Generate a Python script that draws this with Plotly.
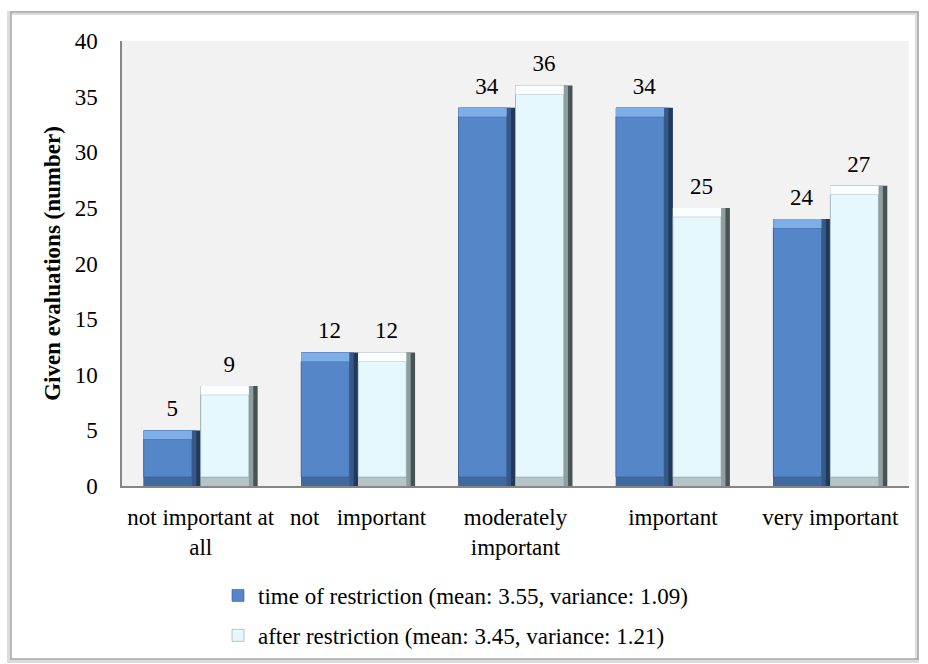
import plotly.graph_objects as go

# ---------------- data ----------------
categories = ["not important at<br>all", "not\u00a0\u00a0 important",
              "moderately<br>important", "important", "very important"]
time_of_restriction = [5, 12, 34, 34, 24]
after_restriction = [9, 12, 36, 25, 27]
series_names = ["time of restriction (mean: 3.55, variance: 1.09)",
                "after restriction (mean: 3.45, variance: 1.21)"]
y_ticks = [0, 5, 10, 15, 20, 25, 30, 35, 40]
y_title = "Given evaluations (number)"

# ---------------- style ----------------
FONT = "Liberation Serif, Times New Roman, serif"
FS = 23
W, H = 928, 664
ML, MR, MT, MB = 122, 19, 41, 178
BW = 0.362     # bar width (category units)
RB = 0.028     # right bevel step (category units)
VB = 0.8       # top / bottom bevel (value units)
LBL = 0.55     # extra lift of value labels (value units)

styles = [
    dict(edge="#22395a", edge2="#36598a", bottom="#4069a0", main="#5587c8",
         top="#7eaee8", offset=-BW),
    dict(edge="#485454", edge2="#8f9fa1", bottom="#b5c5c7", main="#e4f8fd",
         top="#fafeff", offset=0.0),
]

fig = go.Figure()
for k, (vals, name, st) in enumerate(zip([time_of_restriction, after_restriction],
                                         series_names, styles)):
    grp = f"g{k}"
    common = dict(x=categories, offset=st["offset"], legendgroup=grp,
                  hoverinfo="skip", cliponaxis=False)
    # outer bar (darkest right edge)
    fig.add_bar(y=vals, width=BW, marker=dict(color=st["edge"], line_width=0),
                showlegend=False, **common)
    fig.add_bar(y=vals, width=BW - RB, marker=dict(color=st["edge2"], line_width=0),
                showlegend=False, **common)
    # bottom bevel
    fig.add_bar(y=vals, width=BW - 2 * RB, marker=dict(color=st["bottom"], line_width=0),
                showlegend=False, **common)
    # main face
    fig.add_bar(y=[v - 2 * VB for v in vals], base=VB, width=BW - 2 * RB,
                marker=dict(color=st["main"], line=dict(color=st["edge2"], width=0.6)),
                name=name, showlegend=True, **common)
    # top bevel
    fig.add_bar(y=[VB for _ in vals], base=[v - VB for v in vals], width=BW - 2 * RB,
                marker=dict(color=st["top"], line_width=0),
                showlegend=False, **common)
    # value labels (transparent carrier just above the bar)
    fig.add_bar(y=[LBL for _ in vals], base=vals, width=BW,
                marker=dict(color="rgba(0,0,0,0)", line_width=0),
                text=[str(v) for v in vals], textposition="outside",
                constraintext="none",
                textfont=dict(family=FONT, size=FS, color="black"),
                showlegend=False, **common)

pw = W - ML - MR
ph = H - MT - MB
def px(xp):
    return (xp - ML) / pw
def py(yp):
    return (H - MB - yp) / ph

fig.update_layout(
    width=W, height=H,
    margin=dict(l=ML, r=MR, t=MT, b=MB, autoexpand=False),
    barmode="overlay",
    paper_bgcolor="white",
    plot_bgcolor="#f2f2f2",
    font=dict(family=FONT, size=FS, color="black"),
    showlegend=True,
    legend=dict(orientation="v", x=px(218), xanchor="left", y=py(574), yanchor="top",
                font=dict(family=FONT, size=FS, color="black"),
                tracegroupgap=7, bgcolor="rgba(0,0,0,0)", itemclick=False),
    xaxis=dict(showline=True, linecolor="#868686", linewidth=1.5, showgrid=False,
               ticks="outside", ticklen=10, tickcolor="rgba(0,0,0,0)", tickangle=0,
               tickfont=dict(family=FONT, size=FS, color="black"), fixedrange=True,
               automargin=False),
    yaxis=dict(range=[0, 40], tickvals=y_ticks, showline=True, linecolor="#868686",
               linewidth=1.5, showgrid=False, zeroline=False,
               ticks="outside", ticklen=18, tickcolor="rgba(0,0,0,0)",
               tickfont=dict(family=FONT, size=FS, color="black"),
               title=dict(text="<b>" + y_title + "</b>", standoff=8,
                          font=dict(family=FONT, size=FS, color="black")),
               fixedrange=True, automargin=False),
    shapes=[
        dict(type="rect", xref="paper", yref="paper", layer="below",
             x0=px(9), x1=px(917), y0=py(661), y1=py(13),
             line=dict(color="#dcdcdc", width=4), fillcolor="rgba(0,0,0,0)"),
        dict(type="rect", xref="paper", yref="paper", layer="below",
             x0=px(11), x1=px(918), y0=py(659), y1=py(12),
             line=dict(color="#a6a6a6", width=1.5), fillcolor="rgba(0,0,0,0)"),
    ],
)

fig.write_html("out.html", config={"displayModeBar": False},
               post_script="document.body.style.margin='0';")
